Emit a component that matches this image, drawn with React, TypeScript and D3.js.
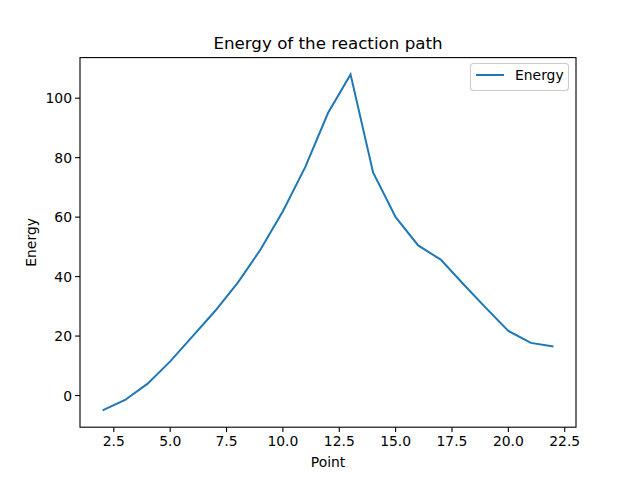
import React from "react";
import * as d3 from "d3";

const points = [2,3,4,5,6,7,8,9,10,11,12,13,14,15,16,17,18,19,20,21,22];
const energy = [-5,-1.5,4,11.5,20,28.5,38,49,62,77,95,108,75,60,50.5,45.7,37.5,29.5,21.7,17.7,16.5];
const xTicks = [2.5,5,7.5,10,12.5,15,17.5,20,22.5];
const yTicks = [0,20,40,60,80,100];

export default function App() {
  const W = 640, H = 480;
  const L = 80, R = 576, T = 57.6, B = 427.2;
  const x = d3.scaleLinear().domain([1, 23]).range([L, R]);
  const y = d3.scaleLinear().domain([-10.65, 113.65]).range([B, T]);
  const line = d3.line<number>().x((_, i) => x(points[i])).y(d => y(d));
  const font = "DejaVu Sans";
  const fs = 13.9;
  return (
    <svg width={W} height={H} style={{ position: "absolute", left: 0, top: 0 }} fontFamily={font}>
      <rect width={W} height={H} fill="white" />
      <path d={line(energy) || ""} fill="none" stroke="#1f77b4" strokeWidth={2} />
      <rect x={L} y={T} width={R - L} height={B - T} fill="none" stroke="black" strokeWidth={1.1} />
      {xTicks.map(t => (
        <g key={t}>
          <line x1={x(t)} x2={x(t)} y1={B} y2={B + 4.9} stroke="black" strokeWidth={1.1} />
          <text x={x(t)} y={B + 19} fontSize={fs} textAnchor="middle">{t.toFixed(1)}</text>
        </g>
      ))}
      {yTicks.map(t => (
        <g key={t}>
          <line x1={L - 4.9} x2={L} y1={y(t)} y2={y(t)} stroke="black" strokeWidth={1.1} />
          <text x={L - 8} y={y(t) + 5} fontSize={fs} textAnchor="end">{t}</text>
        </g>
      ))}
      <text x={(L + R) / 2} y={467} fontSize={fs} textAnchor="middle">Point</text>
      <text transform={`translate(36,${(T + B) / 2}) rotate(-90)`} fontSize={fs} textAnchor="middle">Energy</text>
      <text x={(L + R) / 2} y={49} fontSize={16.7} textAnchor="middle">Energy of the reaction path</text>
      <rect x={470.5} y={63.5} width={98} height={27} rx={3} fill="white" stroke="#cccccc" strokeWidth={1.1} />
      <line x1={476} x2={504} y1={75} y2={75} stroke="#1f77b4" strokeWidth={2} />
      <text x={515} y={80} fontSize={fs}>Energy</text>
    </svg>
  );
}
